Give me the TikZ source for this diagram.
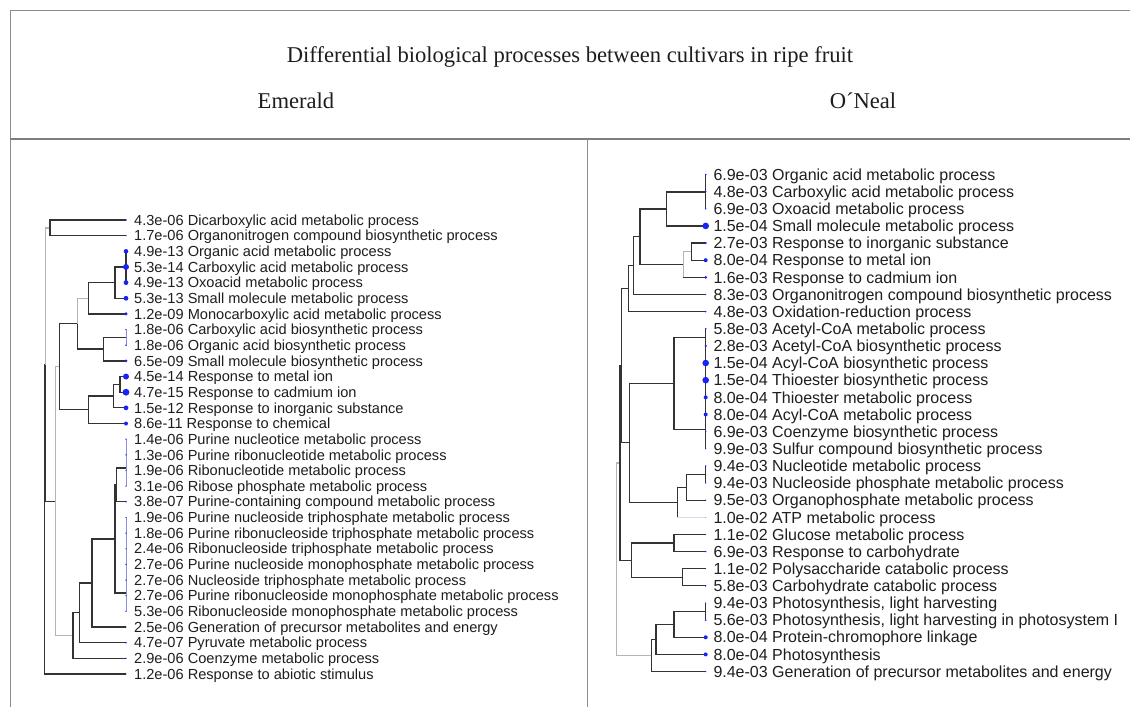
\documentclass[tikz,border=0pt]{standalone}
\usepackage{fontspec}
\setmainfont{Liberation Serif}
\newfontfamily\lsans{Liberation Sans}
\usetikzlibrary{calc}
\definecolor{brdark}{HTML}{333333}
\definecolor{brlight}{HTML}{B4B4B4}
\definecolor{brfaint}{HTML}{DCDCEE}
\definecolor{tipv}{HTML}{8A90D8}
\definecolor{dotc}{RGB}{25,35,245}
\definecolor{frame}{HTML}{8C8C8C}
\definecolor{txt}{HTML}{1E1E1E}
\newcommand\lrowL[3]{\fill[dotc] (tL#1) circle[radius=#2pt]; \node[labL] (lL#1) at ($(tL#1)+(8,5.2)$) {#3};}
\newcommand\lrowR[3]{\fill[dotc] (tR#1) circle[radius=#2pt]; \node[labR] (lR#1) at ($(tR#1)+(7.6,5.7)$) {#3};}
\begin{document}
\begin{tikzpicture}[x=1pt,y=-1pt,
  br/.style={draw=brdark,line width=1.25pt},
  brl/.style={draw=brlight,line width=1.25pt},
  tipvert/.style={draw=tipv,line width=0.8pt},
  framel/.style={draw=frame,line width=0.9pt},
  labL/.style={anchor=base west,inner sep=0pt,text=txt,font=\lsans\fontsize{14.6}{16}\selectfont},
  labR/.style={anchor=base west,inner sep=0pt,text=txt,font=\lsans\fontsize{16}{18}\selectfont},
  head/.style={inner sep=0pt,text=txt,font=\fontsize{22.6}{26}\selectfont}]
\useasboundingbox (0,0) rectangle (1130,707);
\fill[white] (0,0) rectangle (1130,707);
% frame
\coordinate (fTL) at (10,10); \coordinate (fTR) at (1130,10);
\coordinate (fBL) at (10,707);
\coordinate (sL) at (10,139); \coordinate (sR) at (1130,139);
\coordinate (dT) at (587,139); \coordinate (dB) at (587,707);
\draw[framel] (fTR) -- (fTL) -- (fBL);
\draw[draw=frame!90!black,line width=2pt] (sL) -- (sR);
\draw[framel] (dT) -- (dB);
% headings
\node[head] (title) at (570,57) {Differential biological processes between cultivars in ripe fruit};
\node[head] (emer) at (296,101) {Emerald};
\node[head] (onea) at (863,101) {O\char"00B4 Neal};
% tips
\foreach \i in {1,...,30} {
  \coordinate (tL\i) at (126,{220+(\i-1)*15.655});
  \coordinate (tR\i) at (705.7,{174.5+(\i-1)*17.14});
}
% ---------- left tree nodes
\coordinate (n12) at (50,227.9);
\coordinate (g345) at (126,267);
\coordinate (n3456) at (115,282.6);
\coordinate (nA) at (88.3,298.3);
\coordinate (g89) at (126,337.4);
\coordinate (nB) at (103.3,349.1);
\coordinate (nAB) at (77.3,323.7);
\coordinate (nL) at (120,384.4);
\coordinate (nM) at (113.3,396.1);
\coordinate (nN) at (88.3,409.8);
\coordinate (nC) at (59.3,366.8);
\coordinate (g1518) at (126,468);
\coordinate (nJ) at (116.7,484.9);
\coordinate (g2026) at (126,593);
\coordinate (nK) at (115,539);
\coordinate (nG) at (92,583);
\coordinate (nF) at (79.3,612.8);
\coordinate (nE) at (73,635.6);
\coordinate (nD) at (55.7,501.2);
\coordinate (nI) at (45.5,364.5);
\coordinate (nR) at (44.5,519.3);
% left branches
\draw[br] (nR) |- (tL30);
\draw[br] (nR) |- (nI);
\draw[brl] (nI) |- (n12);
\draw[br] (nI) |- (nD);
\draw[br] (n12) |- (tL1);
\draw[br] (n12) |- (tL2);
\draw[brl] (nD) |- (nC);
\draw[brl] (nD) |- (nE);
\draw[br] (nC) |- (nAB);
\draw[br] (nC) |- (nN);
\draw[brl] (nAB) |- (nA);
\draw[br] (nAB) |- (nB);
\draw[br] (nA) |- (n3456);
\draw[br] (nA) |- (tL7);
\draw[br] (n3456) |- (g345);
\draw[br] (n3456) |- (tL6);
\draw[br] (tL3) -- (tL5);
\draw[br] (nB) |- (g89);
\draw[br] (nB) |- (tL10);
\draw[tipvert] (tL8) -- (tL9);
\draw[br] (nN) |- (nM);
\draw[br] (nN) |- (tL14);
\draw[br] (nM) |- (nL);
\draw[br] (nM) |- (tL13);
\draw[br] (nL) |- (tL11);
\draw[br] (nL) |- (tL12);
\draw[br] (nE) |- (nF);
\draw[br] (nE) |- (tL29);
\draw[br] (nF) |- (nG);
\draw[br] (nF) |- (tL28);
\draw[br] (nG) |- (nK);
\draw[br] (nG) |- (tL27);
\draw[br] (nK) |- (nJ);
\draw[br] (nK) |- (g2026);
\draw[br] (nJ) |- (g1518);
\draw[br] (nJ) |- (tL19);
\draw[tipvert] (tL15) -- (tL18);
\draw[tipvert] (tL20) -- (tL26);
% ---------- right tree nodes
\coordinate (g13) at (705.7,192);
\coordinate (n4) at (666.7,209);
\coordinate (n56) at (691.7,251.6);
\coordinate (n567) at (683.3,264.5);
\coordinate (n7) at (640,236.7);
\coordinate (n8) at (633.3,265.6);
\coordinate (n9) at (628.3,288.6);
\coordinate (gAc1) at (705.7,337.3);
\coordinate (gAc2) at (705.7,429.4);
\coordinate (nAc) at (674,383.4);
\coordinate (g1819) at (705.7,474.5);
\coordinate (nNu) at (686.7,487.3);
\coordinate (nNu2) at (677.3,502.3);
\coordinate (nMid) at (629.3,442.8);
\coordinate (nP) at (621.7,365.7);
\coordinate (nC1) at (674,543);
\coordinate (nC2) at (682.7,577.3);
\coordinate (nCa) at (631.7,560.2);
\coordinate (nQ) at (620,463);
\coordinate (g2627) at (705.7,611.6);
\coordinate (nPh1) at (674,624.5);
\coordinate (nPh2) at (656,639.5);
\coordinate (nPh3) at (651.7,655.5);
\coordinate (nRR) at (616.7,559.3);
% right branches
\draw[brl] (nRR) |- (nQ);
\draw[brl] (nRR) |- (nPh3);
\draw[br] (nQ) |- (nP);
\draw[br] (nQ) |- (nCa);
\draw[br] (nP) |- (n9);
\draw[br] (nP) |- (nMid);
\draw[br] (n9) |- (n8);
\draw[br] (n9) |- (tR9);
\draw[br] (n8) |- (n7);
\draw[br] (n8) |- (tR8);
\draw[br] (n7) |- (n4);
\draw[br] (n7) |- (n567);
\draw[br] (n4) |- (g13);
\draw[br] (n4) |- (tR4);
\draw[br] (tR1) -- (tR3);
\draw[brl] (n567) |- (n56);
\draw[brl] (n567) -- (n567 |- tR7);
\draw[br] (n567 |- tR7) -- (tR7);
\draw[br] (n56) |- (tR5);
\draw[br] (n56) |- (tR6);
\draw[br] (nMid) |- (nAc);
\draw[br] (nMid) |- (nNu2);
\draw[br] (nAc) |- (gAc1);
\draw[br] (nAc) |- (gAc2);
\draw[br] (tR10) -- (tR17);
\draw[br] (nNu2) |- (nNu);
\draw[br] (nNu2) -- (nNu2 |- tR21);
\draw[draw=brfaint,line width=1.25pt] (nNu2 |- tR21) -- (tR21);
\draw[br] (nNu) |- (g1819);
\draw[br] (nNu) |- (tR20);
\draw[br] (tR18) -- (tR19);
\draw[br] (nCa) |- (nC1);
\draw[br] (nCa) |- (nC2);
\draw[br] (nC1) |- (tR22);
\draw[br] (nC1) |- (tR23);
\draw[br] (nC2) |- (tR24);
\draw[br] (nC2) |- (tR25);
\draw[br] (nPh3) |- (nPh2);
\draw[br] (nPh3) |- (tR30);
\draw[br] (nPh2) |- (nPh1);
\draw[br] (nPh2) |- (tR29);
\draw[br] (nPh1) |- (g2627);
\draw[br] (nPh1) |- (tR28);
\draw[br] (tR26) -- (tR27);
% ---------- left labels and dots
\lrowL{1}{0.8}{4.3e-06 Dicarboxylic acid metabolic process}
\lrowL{2}{0.8}{1.7e-06 Organonitrogen compound biosynthetic process}
\lrowL{3}{2.3}{4.9e-13 Organic acid metabolic process}
\lrowL{4}{3.0}{5.3e-14 Carboxylic acid metabolic process}
\lrowL{5}{2.4}{4.9e-13 Oxoacid metabolic process}
\lrowL{6}{2.4}{5.3e-13 Small molecule metabolic process}
\lrowL{7}{1.7}{1.2e-09 Monocarboxylic acid metabolic process}
\lrowL{8}{0.8}{1.8e-06 Carboxylic acid biosynthetic process}
\lrowL{9}{0.8}{1.8e-06 Organic acid biosynthetic process}
\lrowL{10}{1.5}{6.5e-09 Small molecule biosynthetic process}
\lrowL{11}{3.0}{4.5e-14 Response to metal ion}
\lrowL{12}{3.4}{4.7e-15 Response to cadmium ion}
\lrowL{13}{2.4}{1.5e-12 Response to inorganic substance}
\lrowL{14}{2.0}{8.6e-11 Response to chemical}
\lrowL{15}{0.7}{1.4e-06 Purine nucleotice metabolic process}
\lrowL{16}{0.7}{1.3e-06 Purine ribonucleotide metabolic process}
\lrowL{17}{0.7}{1.9e-06 Ribonucleotide metabolic process}
\lrowL{18}{0.7}{3.1e-06 Ribose phosphate metabolic process}
\lrowL{19}{0.9}{3.8e-07 Purine-containing compound metabolic process}
\lrowL{20}{0.7}{1.9e-06 Purine nucleoside triphosphate metabolic process}
\lrowL{21}{0.7}{1.8e-06 Purine ribonucleoside triphosphate metabolic process}
\lrowL{22}{0.7}{2.4e-06 Ribonucleoside triphosphate metabolic process}
\lrowL{23}{0.7}{2.7e-06 Purine nucleoside monophosphate metabolic process}
\lrowL{24}{0.7}{2.7e-06 Nucleoside triphosphate metabolic process}
\lrowL{25}{0.7}{2.7e-06 Purine ribonucleoside monophosphate metabolic process}
\lrowL{26}{0.7}{5.3e-06 Ribonucleoside monophosphate metabolic process}
\lrowL{27}{0.7}{2.5e-06 Generation of precursor metabolites and energy}
\lrowL{28}{0.9}{4.7e-07 Pyruvate metabolic process}
\lrowL{29}{0.7}{2.9e-06 Coenzyme metabolic process}
\lrowL{30}{0.7}{1.2e-06 Response to abiotic stimulus}
% ---------- right labels and dots
\lrowR{1}{0.8}{6.9e-03 Organic acid metabolic process}
\lrowR{2}{0.9}{4.8e-03 Carboxylic acid metabolic process}
\lrowR{3}{0.8}{6.9e-03 Oxoacid metabolic process}
\lrowR{4}{3.3}{1.5e-04 Small molecule metabolic process}
\lrowR{5}{1.2}{2.7e-03 Response to inorganic substance}
\lrowR{6}{2.0}{8.0e-04 Response to metal ion}
\lrowR{7}{1.5}{1.6e-03 Response to cadmium ion}
\lrowR{8}{0.7}{8.3e-03 Organonitrogen compound biosynthetic process}
\lrowR{9}{0.9}{4.8e-03 Oxidation-reduction process}
\lrowR{10}{0.9}{5.8e-03 Acetyl-CoA metabolic process}
\lrowR{11}{1.2}{2.8e-03 Acetyl-CoA biosynthetic process}
\lrowR{12}{3.3}{1.5e-04 Acyl-CoA biosynthetic process}
\lrowR{13}{3.3}{1.5e-04 Thioester biosynthetic process}
\lrowR{14}{2.0}{8.0e-04 Thioester metabolic process}
\lrowR{15}{2.0}{8.0e-04 Acyl-CoA metabolic process}
\lrowR{16}{0.8}{6.9e-03 Coenzyme biosynthetic process}
\lrowR{17}{0.6}{9.9e-03 Sulfur compound biosynthetic process}
\lrowR{18}{0.7}{9.4e-03 Nucleotide metabolic process}
\lrowR{19}{0.7}{9.4e-03 Nucleoside phosphate metabolic process}
\lrowR{20}{0.7}{9.5e-03 Organophosphate metabolic process}
\lrowR{21}{0.4}{1.0e-02 ATP metabolic process}
\lrowR{22}{0.5}{1.1e-02 Glucose metabolic process}
\lrowR{23}{0.8}{6.9e-03 Response to carbohydrate}
\lrowR{24}{0.5}{1.1e-02 Polysaccharide catabolic process}
\lrowR{25}{0.9}{5.8e-03 Carbohydrate catabolic process}
\lrowR{26}{0.7}{9.4e-03 Photosynthesis, light harvesting}
\lrowR{27}{0.9}{5.6e-03 Photosynthesis, light harvesting in photosystem I}
\lrowR{28}{2.0}{8.0e-04 Protein-chromophore linkage}
\lrowR{29}{2.0}{8.0e-04 Photosynthesis}
\lrowR{30}{0.7}{9.4e-03 Generation of precursor metabolites and energy}
\end{tikzpicture}
\end{document}
